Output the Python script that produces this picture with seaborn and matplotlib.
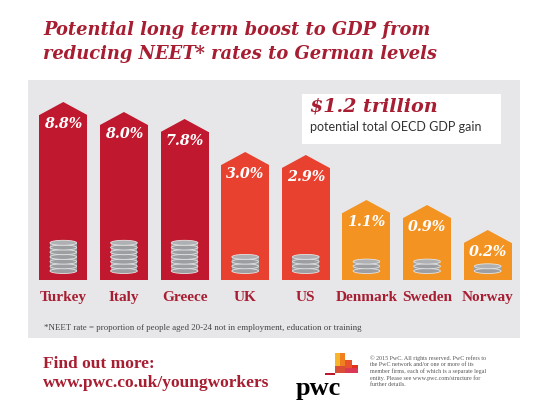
import matplotlib
matplotlib.use("Agg")
import matplotlib.pyplot as plt
import seaborn as sns
import pandas as pd
from matplotlib.patches import Rectangle, Ellipse

# chart data (the infographic is not drawn to scale, so the drawn heights are read off the picture)
countries = ["Turkey", "Italy", "Greece", "UK", "US", "Denmark", "Sweden", "Norway"]
gdp_boost = [8.8, 8.0, 7.8, 3.0, 2.9, 1.1, 0.9, 0.2]
bar_height = [165, 155, 148, 115, 112, 67, 62, 37]
coin_count = [6, 6, 6, 3, 3, 2, 2, 1]
bar_colors = ["#c0182e", "#c0182e", "#c0182e", "#e8412f", "#e8412f",
              "#f39322", "#f39322", "#f39322"]

DARK_RED = "#a71d31"
PANEL = "#e7e7e9"
COIN = "#9c9ea1"
W, H = 549, 412

sns.set_theme(style="white")
plt.rcParams["font.family"] = ["DejaVu Serif"]

fig = plt.figure(figsize=(W / 100, H / 100), dpi=100)
fig.patch.set_facecolor("white")


def px(x, y):
    # pixel position (from top-left) -> figure fraction
    return x / W, 1 - y / H


# grey panel
fig.patches.append(Rectangle(px(28, 338), 492 / W, 258 / H, transform=fig.transFigure,
                             facecolor=PANEL, edgecolor="none", zorder=-2))

# title
fig.text(*px(43, 30), "Potential long term boost to GDP from", color=DARK_RED,
         fontsize=12.9, fontweight="bold", style="italic", va="center")
fig.text(*px(43, 54), "reducing NEET* rates to German levels", color=DARK_RED,
         fontsize=12.9, fontweight="bold", style="italic", va="center")

# bars
df = pd.DataFrame({"country": countries, "height": bar_height, "value": gdp_boost})
ax = fig.add_axes([33 / W, 132 / H, 485 / W, 185 / H])
ax.patch.set_alpha(0)
sns.barplot(data=df, x="country", y="height", hue="country", palette=bar_colors,
            saturation=1, width=0.79, legend=False, ax=ax, zorder=2,
            edgecolor="none")
ax.set_ylim(0, 185)
ax.set_xlim(-0.5, len(countries) - 0.5)
ax.set_xlabel("")
ax.set_ylabel("")
ax.set_yticks([])
for s in ax.spines.values():
    s.set_visible(False)
ax.tick_params(axis="x", length=0, pad=8)
for lab in ax.get_xticklabels():
    lab.set_color(DARK_RED)
    lab.set_fontweight("bold")
    lab.set_fontsize(11)
    lab.set_family("Liberation Serif")

half = 0.79 / 2
peak = 13
for i, (h, v, c, n) in enumerate(zip(bar_height, gdp_boost, bar_colors, coin_count)):
    # arrow head on top of each bar
    ax.fill([i - half, i, i + half], [h, h + peak, h], color=c, lw=0, zorder=2)
    ax.text(i, h - 9, f"{v:.1f}%", color="white", fontsize=10.3, fontweight="bold",
            style="italic", ha="center", va="center", zorder=3)
    # stack of coins near the bottom
    for k in range(n):
        y0 = 9 + k * 4.7
        ax.add_patch(Rectangle((i - 0.22, y0), 0.44, 4.7, facecolor=COIN,
                               edgecolor="none", zorder=3))
        ax.add_patch(Ellipse((i, y0), 0.44, 5.0, facecolor=COIN,
                             edgecolor="#e4e4e4", lw=0.6, zorder=3))
    ax.add_patch(Ellipse((i, 9 + n * 4.7), 0.44, 5.0, facecolor="#aeb0b3",
                         edgecolor="#e4e4e4", lw=0.6, zorder=4))

# headline box
fig.patches.append(Rectangle(px(302, 144), 199 / W, 50 / H, transform=fig.transFigure,
                             facecolor="white", edgecolor="none", zorder=-1))
fig.text(*px(310, 107), "$1.2 trillion", color=DARK_RED, fontsize=13.8,
         fontweight="bold", style="italic", va="center")
fig.text(*px(310, 127), "potential total OECD GDP gain", color="#333333", fontsize=9,
         family="Lato", va="center")

# footnote
fig.text(*px(44, 328), "*NEET rate = proportion of people aged 20-24 not in employment, "
         "education or training", color="#444444", fontsize=6.4, family="Liberation Serif",
         va="center")

# footer
fig.text(*px(43, 364), "Find out more:", color=DARK_RED, fontsize=12.5,
         fontweight="bold", family="Liberation Serif", va="center")
fig.text(*px(43, 383), "www.pwc.co.uk/youngworkers", color=DARK_RED, fontsize=12.5,
         fontweight="bold", family="Liberation Serif", va="center")

# pwc logo
logo = [(335, 353, 5, 20, "#f7b52c"), (340, 353, 5, 20, "#f0801f"),
        (345, 360, 7, 13, "#e8532b"), (352, 365, 6, 8, "#e0301e"),
        (335, 366, 10, 7, "#db4e36"), (345, 368, 13, 5, "#d93954")]
for x, y, w, h, c in logo:
    fig.patches.append(Rectangle(px(x, y + h), w / W, h / H, transform=fig.transFigure,
                                 facecolor=c, edgecolor="none"))
fig.patches.append(Rectangle(px(325, 375), 10 / W, 2 / H, transform=fig.transFigure,
                             facecolor="#c0182e", edgecolor="none"))
fig.text(*px(296, 389), "pwc", color="black", fontsize=19, fontweight="bold",
         family="Liberation Serif", va="center")

fig.text(*px(370, 371), "\u00a9 2015 PwC. All rights reserved. PwC refers to\n"
         "the PwC network and/or one or more of its\n"
         "member firms, each of which is a separate legal\n"
         "entity. Please see www.pwc.com/structure for\n"
         "further details.", color="#555555", fontsize=4.3,
         family="Liberation Serif", va="center", linespacing=1.25)

fig.savefig("out.png", dpi=100)
